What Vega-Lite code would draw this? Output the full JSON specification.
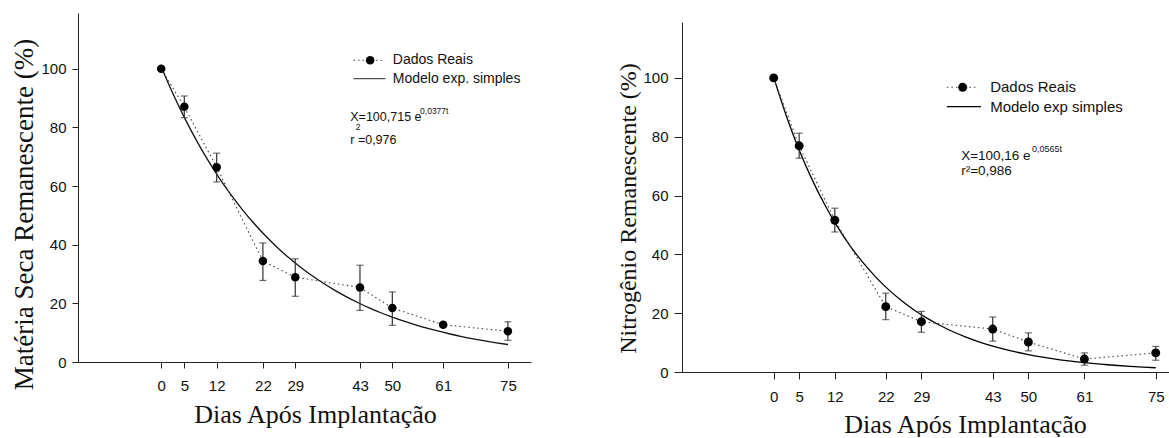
{
  "$schema": "https://vega.github.io/schema/vega-lite/v6.json",
  "background": "white",
  "padding": {"left": 10, "top": 13, "right": 0, "bottom": 0},
  "autosize": {"type": "pad"},
  "spacing": 85,
  "config": {
    "view": {"stroke": null},
    "axis": {"grid": false, "domainColor": "#222", "tickColor": "#222", "labelColor": "#111", "labelFont": "Liberation Sans", "labelFontSize": 15, "titleFont": "Liberation Serif", "titleFontWeight": "normal", "titleColor": "#111", "titleFontSize": 26, "tickSize": 6, "domainWidth": 1, "tickWidth": 1, "labelOverlap": false, "labelFlush": false},
    "axisX": {"labelPadding": 10, "titlePadding": 8, "titleBaseline": "alphabetic"},
    "axisY": {"labelPadding": 6, "titlePadding": 2},
    "text": {"font": "Liberation Sans", "color": "#111"}
  },
  "datasets": {
    "ms": [
      {"t": 0, "v": 100, "lo": 100, "hi": 100},
      {"t": 5, "v": 87.0, "lo": 83.3, "hi": 90.7},
      {"t": 12, "v": 66.4, "lo": 61.4, "hi": 71.2},
      {"t": 22, "v": 34.4, "lo": 27.8, "hi": 40.6},
      {"t": 29, "v": 28.9, "lo": 22.4, "hi": 35.2},
      {"t": 43, "v": 25.4, "lo": 17.6, "hi": 33.0},
      {"t": 50, "v": 18.4, "lo": 12.5, "hi": 23.9},
      {"t": 61, "v": 12.7, "lo": 12.0, "hi": 13.4},
      {"t": 75, "v": 10.5, "lo": 7.4, "hi": 13.7}
    ],
    "ms_model": [
      {"t": 0, "v": 100.7}, {"t": 2.5, "v": 91.65}, {"t": 5, "v": 83.41}, {"t": 7.5, "v": 75.91}, {"t": 10, "v": 69.08},
      {"t": 12.5, "v": 62.87}, {"t": 15, "v": 57.21}, {"t": 17.5, "v": 52.07}, {"t": 20, "v": 47.39}, {"t": 22.5, "v": 43.12},
      {"t": 25, "v": 39.24}, {"t": 27.5, "v": 35.71}, {"t": 30, "v": 32.5}, {"t": 32.5, "v": 29.58}, {"t": 35, "v": 26.92},
      {"t": 37.5, "v": 24.5}, {"t": 40, "v": 22.3}, {"t": 42.5, "v": 20.29}, {"t": 45, "v": 18.46}, {"t": 47.5, "v": 16.8},
      {"t": 50, "v": 15.29}, {"t": 52.5, "v": 13.92}, {"t": 55, "v": 12.67}, {"t": 57.5, "v": 11.53}, {"t": 60, "v": 10.49},
      {"t": 62.5, "v": 9.55}, {"t": 65, "v": 8.69}, {"t": 67.5, "v": 7.9}, {"t": 70, "v": 7.19}, {"t": 72.5, "v": 6.55}, {"t": 75, "v": 5.96}
    ],
    "n": [
      {"t": 0, "v": 100, "lo": 100, "hi": 100},
      {"t": 5, "v": 76.9, "lo": 72.7, "hi": 81.2},
      {"t": 12, "v": 51.6, "lo": 47.6, "hi": 55.7},
      {"t": 22, "v": 22.2, "lo": 17.8, "hi": 26.8},
      {"t": 29, "v": 17.1, "lo": 13.5, "hi": 20.6},
      {"t": 43, "v": 14.6, "lo": 10.5, "hi": 18.7},
      {"t": 50, "v": 10.2, "lo": 7.2, "hi": 13.3},
      {"t": 61, "v": 4.4, "lo": 2.3, "hi": 6.5},
      {"t": 75, "v": 6.5, "lo": 4.0, "hi": 8.7}
    ],
    "n_model": [
      {"t": 0, "v": 100.16}, {"t": 2.5, "v": 86.97}, {"t": 5, "v": 75.51}, {"t": 7.5, "v": 65.57}, {"t": 10, "v": 56.93},
      {"t": 12.5, "v": 49.43}, {"t": 15, "v": 42.92}, {"t": 17.5, "v": 37.26}, {"t": 20, "v": 32.35}, {"t": 22.5, "v": 28.09},
      {"t": 25, "v": 24.39}, {"t": 27.5, "v": 21.18}, {"t": 30, "v": 18.39}, {"t": 32.5, "v": 15.97}, {"t": 35, "v": 13.86},
      {"t": 37.5, "v": 12.04}, {"t": 40, "v": 10.45}, {"t": 42.5, "v": 9.08}, {"t": 45, "v": 7.88}, {"t": 47.5, "v": 6.84},
      {"t": 50, "v": 5.94}, {"t": 52.5, "v": 5.16}, {"t": 55, "v": 4.48}, {"t": 57.5, "v": 3.89}, {"t": 60, "v": 3.38},
      {"t": 62.5, "v": 2.93}, {"t": 65, "v": 2.55}, {"t": 67.5, "v": 2.21}, {"t": 70, "v": 1.92}, {"t": 72.5, "v": 1.67}, {"t": 75, "v": 1.45}
    ]
  },
  "hconcat": [
    {
      "width": 453,
      "height": 349,
      "encoding": {
        "x": {"field": "t", "type": "quantitative", "scale": {"domain": [-18, 80], "nice": false, "zero": false}, "axis": {"values": [0, 5, 12, 22, 29, 43, 50, 61, 75], "title": "Dias Após Implantação", "titleX": 237, "titleY": 60.5}},
        "y": {"field": "v", "type": "quantitative", "scale": {"domain": [0, 119], "nice": false}, "axis": {"values": [0, 20, 40, 60, 80, 100], "title": "Matéria Seca Remanescente (%)", "titleY": 201, "titleFontSize": 27}}
      },
      "layer": [
        {"data": {"name": "ms_model"}, "mark": {"type": "line", "color": "#111", "strokeWidth": 1.3, "interpolate": "monotone"}},
        {"data": {"name": "ms"}, "mark": {"type": "line", "color": "#444", "strokeWidth": 1.1, "strokeDash": [1.5, 3]}},
        {"data": {"name": "ms"}, "mark": {"type": "rule", "color": "#333", "strokeWidth": 1.2}, "encoding": {"y": {"field": "lo", "type": "quantitative"}, "y2": {"field": "hi"}}},
        {"data": {"name": "ms"}, "mark": {"type": "tick", "orient": "horizontal", "color": "#333", "size": 7, "thickness": 1.2}, "encoding": {"y": {"field": "hi", "type": "quantitative"}}},
        {"data": {"name": "ms"}, "mark": {"type": "tick", "orient": "horizontal", "color": "#333", "size": 7, "thickness": 1.2}, "encoding": {"y": {"field": "lo", "type": "quantitative"}}},
        {"data": {"name": "ms"}, "mark": {"type": "point", "filled": true, "color": "#000", "size": 72, "opacity": 1}},
        {"data": {"values": [{"t": 41.6, "v": 102.9}, {"t": 48.1, "v": 102.9}]}, "mark": {"type": "line", "color": "#444", "strokeWidth": 1.1, "strokeDash": [1.5, 3]}},
        {"data": {"values": [{"t": 45.2, "v": 102.9}]}, "mark": {"type": "point", "filled": true, "color": "#000", "size": 72, "opacity": 1}},
        {"data": {"values": [{"t": 41.6, "v": 96.6}, {"t": 48.5, "v": 96.6}]}, "mark": {"type": "line", "color": "#555", "strokeWidth": 1.3}},
        {"data": {"values": [{"t": 50.1, "v": 102.9, "label": "Dados Reais"}, {"t": 50.1, "v": 96.6, "label": "Modelo exp. simples"}]}, "mark": {"type": "text", "align": "left", "baseline": "middle", "fontSize": 14}, "encoding": {"text": {"field": "label"}}},
        {"data": {"values": [{"t": 40.9, "v": 83.6, "label": "X=100,715 e"}, {"t": 40.9, "v": 75.6, "label": "r =0,976"}]}, "mark": {"type": "text", "align": "left", "baseline": "middle", "fontSize": 12.5}, "encoding": {"text": {"field": "label"}}},
        {"data": {"values": [{"t": 56.0, "v": 85.6, "label": "0,0377t"}, {"t": 42.1, "v": 80.0, "label": "2"}]}, "mark": {"type": "text", "align": "left", "baseline": "middle", "fontSize": 8.5}, "encoding": {"text": {"field": "label"}}}
      ]
    },
    {
      "spacing": 8,
      "vconcat": [
        {
          "width": 1,
          "height": 1,
          "data": {"values": [{"k": 1}]},
          "mark": {"type": "rect", "opacity": 0}
        },
        {
          "width": 489,
          "height": 350,
          "encoding": {
            "x": {"field": "t", "type": "quantitative", "scale": {"domain": [-18, 78], "nice": false, "zero": false}, "axis": {"values": [0, 5, 12, 22, 29, 43, 50, 61, 75], "title": "Dias Após Implantação", "titleX": 283, "titleY": 60, "tickSize": 7}},
            "y": {"field": "v", "type": "quantitative", "scale": {"domain": [0, 119], "nice": false}, "axis": {"values": [0, 20, 40, 60, 80, 100], "title": "Nitrogênio Remanescente (%)", "titleY": 186, "titleFontSize": 24, "tickSize": 8}}
          },
          "layer": [
            {"data": {"name": "n_model"}, "mark": {"type": "line", "color": "#000", "strokeWidth": 1.3, "interpolate": "monotone"}},
            {"data": {"name": "n"}, "mark": {"type": "line", "color": "#444", "strokeWidth": 1.1, "strokeDash": [1.5, 3]}},
            {"data": {"name": "n"}, "mark": {"type": "rule", "color": "#333", "strokeWidth": 1.2}, "encoding": {"y": {"field": "lo", "type": "quantitative"}, "y2": {"field": "hi"}}},
            {"data": {"name": "n"}, "mark": {"type": "tick", "orient": "horizontal", "color": "#333", "size": 7, "thickness": 1.2}, "encoding": {"y": {"field": "hi", "type": "quantitative"}}},
            {"data": {"name": "n"}, "mark": {"type": "tick", "orient": "horizontal", "color": "#333", "size": 7, "thickness": 1.2}, "encoding": {"y": {"field": "lo", "type": "quantitative"}}},
            {"data": {"name": "n"}, "mark": {"type": "point", "filled": true, "color": "#000", "size": 80, "opacity": 1}},
            {"data": {"values": [{"t": 34.0, "v": 96.8}, {"t": 40.2, "v": 96.8}]}, "mark": {"type": "line", "color": "#444", "strokeWidth": 1.1, "strokeDash": [1.5, 3]}},
            {"data": {"values": [{"t": 37.1, "v": 96.8}]}, "mark": {"type": "point", "filled": true, "color": "#000", "size": 80, "opacity": 1}},
            {"data": {"values": [{"t": 34.0, "v": 90.2}, {"t": 40.7, "v": 90.2}]}, "mark": {"type": "line", "color": "#000", "strokeWidth": 1.3}},
            {"data": {"values": [{"t": 42.5, "v": 96.8, "label": "Dados Reais"}, {"t": 42.5, "v": 90.2, "label": "Modelo exp simples"}]}, "mark": {"type": "text", "align": "left", "baseline": "middle", "fontSize": 15}, "encoding": {"text": {"field": "label"}}},
            {"data": {"values": [{"t": 36.8, "v": 73.6, "label": "X=100,16 e"}, {"t": 36.8, "v": 68.2, "label": "r²=0,986"}]}, "mark": {"type": "text", "align": "left", "baseline": "middle", "fontSize": 13.5}, "encoding": {"text": {"field": "label"}}},
            {"data": {"values": [{"t": 50.7, "v": 75.8, "label": "0,0565t"}]}, "mark": {"type": "text", "align": "left", "baseline": "middle", "fontSize": 9}, "encoding": {"text": {"field": "label"}}}
          ]
        }
      ]
    }
  ]
}
